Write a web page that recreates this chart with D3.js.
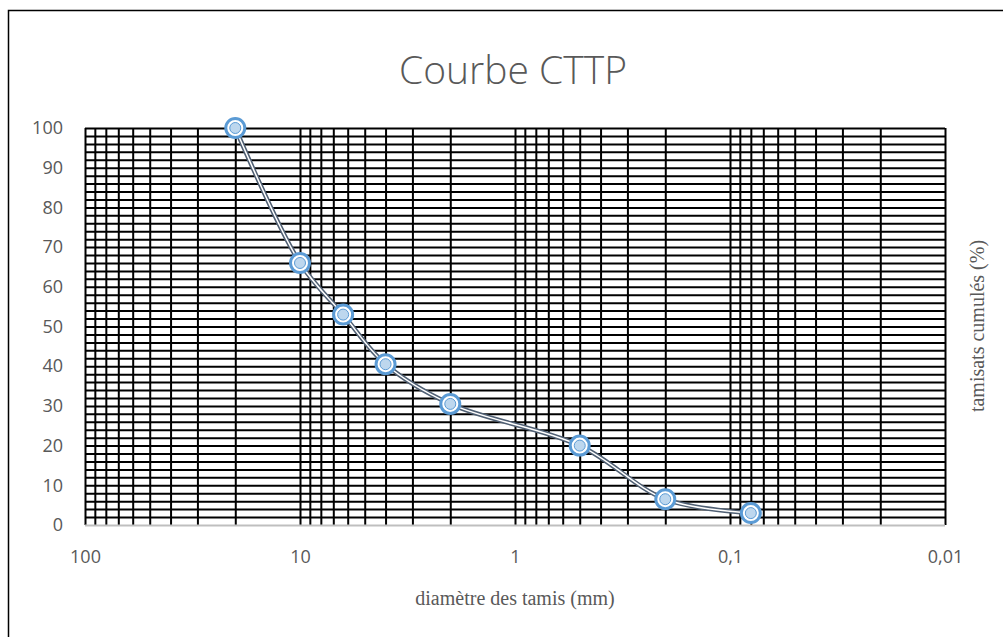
<!DOCTYPE html>
<html>
<head>
    <title>Courbe CTTP</title>
    <script src="https://cdnjs.cloudflare.com/ajax/libs/d3/7.8.5/d3.min.js"></script>
    <style>
        body { margin: 0; background: #fff; }
        svg { display: block; }
    </style>
</head>
<body>
    <svg id="chart" width="1003" height="637"></svg>
    <script>
        // diamètre des tamis (mm) et tamisats cumulés (%)
        var diametres = [20, 10, 6.3, 4, 2, 0.5, 0.2, 0.08];
        var tamisats = [100, 66, 53, 40.5, 30.5, 20, 6.5, 3];
        var xTicks = [100, 10, 1, 0.1, 0.01];
        var yTicks = [0, 10, 20, 30, 40, 50, 60, 70, 80, 90, 100];

        var svg = d3.select("#chart");
        var plotLeft = 85, plotRight = 945, plotTop = 128, plotBottom = 525;

        var xScale = d3.scaleLog().domain([100, 0.01]).range([plotLeft, plotRight]);
        var yScale = d3.scaleLinear().domain([0, 100]).range([plotBottom, plotTop]);

        // cadre du graphique
        svg.append("rect")
            .attr("x", 8.5).attr("y", 10.5)
            .attr("width", 1010).attr("height", 650)
            .attr("fill", "none").attr("stroke", "#000").attr("stroke-width", 1.5);

        // grille horizontale (tous les 2 %)
        var yGrid = d3.range(2, 101, 2);
        svg.append("g")
            .attr("transform", `translate(${plotLeft},0)`)
            .call(d3.axisLeft(yScale).tickValues(yGrid).tickSize(-(plotRight - plotLeft)).tickFormat(""))
            .call(g => g.select(".domain").remove())
            .selectAll("line").attr("stroke", "#000").attr("stroke-width", 2);

        // grille verticale (log)
        var xGrid = [];
        [0.01, 0.1, 1, 10].forEach(d => { for (var k = 1; k < 10; k++) xGrid.push(d * k); });
        xGrid.push(100);
        svg.append("g")
            .attr("transform", `translate(0,${plotBottom})`)
            .call(d3.axisBottom(xScale).tickValues(xGrid).tickSize(-(plotBottom - plotTop)).tickFormat(""))
            .call(g => g.select(".domain").remove())
            .selectAll("line").attr("stroke", "#000").attr("stroke-width", 2);

        // axe horizontal (ligne grise)
        svg.append("line")
            .attr("x1", plotLeft).attr("x2", plotRight)
            .attr("y1", plotBottom + 0.5).attr("y2", plotBottom + 0.5)
            .attr("stroke", "#bfbfbf").attr("stroke-width", 2);

        // étiquettes Y
        var yAxis = svg.append("g")
            .attr("transform", `translate(${plotLeft},0)`)
            .call(d3.axisLeft(yScale).tickValues(yTicks).tickSize(0).tickPadding(22));
        yAxis.select(".domain").remove();
        yAxis.selectAll("text")
            .style("font-family", "'Open Sans', sans-serif")
            .style("font-size", "18px").attr("fill", "#595959");

        // étiquettes X
        var xAxis = svg.append("g")
            .attr("transform", `translate(0,${plotBottom})`)
            .call(d3.axisBottom(xScale).tickValues(xTicks).tickSize(0).tickPadding(25)
                .tickFormat(d => String(d).replace(".", ",")));
        xAxis.select(".domain").remove();
        xAxis.selectAll("text")
            .style("font-family", "'Open Sans', sans-serif")
            .style("font-size", "18px").attr("fill", "#595959");

        var data = diametres.map((d, i) => ({ x: d, y: tamisats[i] }));

        var line = d3.line()
            .x(d => xScale(d.x))
            .y(d => yScale(d.y))
            .curve(d3.curveCatmullRom.alpha(0.5));

        // trait double
        svg.append("path")
            .attr("d", line(data))
            .attr("fill", "none").attr("stroke", "#4f5f73").attr("stroke-width", 4.5);
        svg.append("path")
            .attr("d", line(data))
            .attr("fill", "none").attr("stroke", "#fff").attr("stroke-width", 1.5);

        // marqueurs
        var pts = svg.selectAll(".pt").data(data).enter().append("g").attr("class", "pt")
            .attr("transform", d => `translate(${xScale(d.x)},${yScale(d.y)})`);
        pts.append("circle").attr("r", 9.5)
            .attr("fill", "#fff").attr("stroke", "#5b9bd5").attr("stroke-width", 3);
        pts.append("circle").attr("r", 5.5)
            .attr("fill", "#bdd7ee").attr("stroke", "#5b9bd5").attr("stroke-width", 1);

        // titre
        svg.append("text")
            .attr("x", 513).attr("y", 84)
            .attr("text-anchor", "middle")
            .attr("font-family", "'Open Sans', sans-serif").attr("font-weight", 300)
            .attr("font-size", 39).attr("fill", "#595959")
            .text("Courbe CTTP");

        // titres des axes
        svg.append("text")
            .attr("x", 515).attr("y", 605)
            .attr("text-anchor", "middle")
            .attr("font-family", "'Liberation Serif', serif")
            .attr("font-size", 20).attr("fill", "#595959")
            .text("diamètre des tamis (mm)");

        svg.append("text")
            .attr("transform", "translate(984,326) rotate(-90)")
            .attr("text-anchor", "middle")
            .attr("font-family", "'Liberation Serif', serif")
            .attr("font-size", 20).attr("fill", "#595959")
            .text("tamisats cumulés (%)");
    </script>
</body>
</html>
